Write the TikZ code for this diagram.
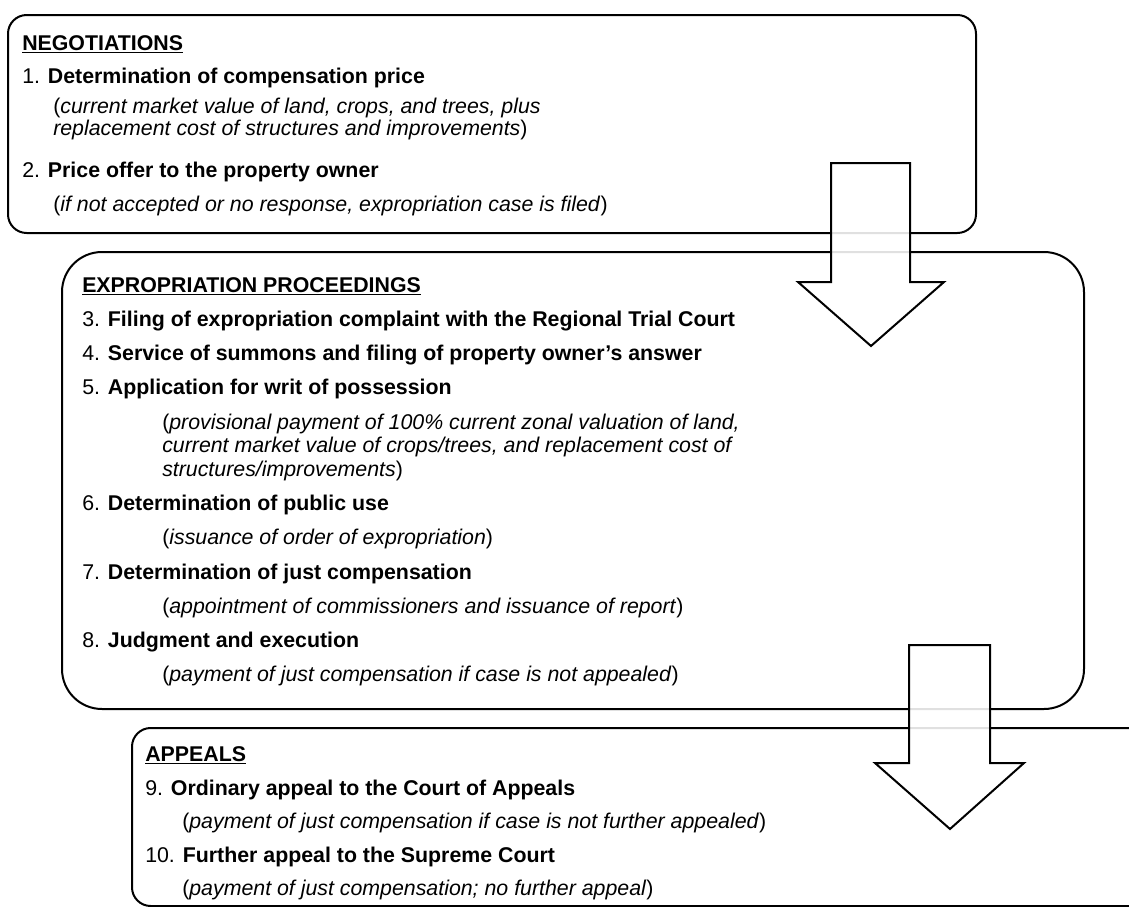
\documentclass[tikz,border=0pt]{standalone}
\usepackage{fontspec}
\setmainfont{Liberation Sans}
\usetikzlibrary{calc}

\begin{document}
\begin{tikzpicture}[x=0.75pt,y=-0.75pt,
    stage/.style={draw, line width=1.5pt},
    blockarrow/.style={draw, line width=1.5pt, fill=white, fill opacity=0.88, line join=miter},
    txt/.style={anchor=base west, inner sep=0pt, font=\fontsize{16}{18}\selectfont},
    note/.style={txt, align=left, font=\fontsize{16}{13.5}\selectfont}]

    \useasboundingbox (0,0) rectangle (1129,907);

    % the three stages
    \draw[stage, rounded corners=14pt] (8,15) rectangle (976,233);
    \draw[stage, rounded corners=30pt] (62,252) rectangle (1084,709);
    \draw[stage, rounded corners=14pt] (132,728) rectangle (1200,906);

    % negotiations
    \node[txt] (neg) at (22,50.5) {\underline{\textbf{NEGOTIATIONS}}};
    \node[txt] (s1) at (22,83) {1. \textbf{Determination of compensation price}};
    % base of a two-line node sits on its last line
    \node[note] (s1a) at (53,135) {(\textit{current market value of land, crops, and trees, plus}\\
        \textit{replacement cost of structures and improvements})};
    \node[txt] (s2) at (22,177) {2. \textbf{Price offer to the property owner}};
    \node[note] (s2a) at (53,211) {(\textit{if not accepted or no response, expropriation case is filed})};

    % expropriation proceedings
    \node[txt] (exp) at (82,292.5) {\underline{\textbf{EXPROPRIATION PROCEEDINGS}}};
    \node[txt] (s3) at (82,326) {3. \textbf{Filing of expropriation complaint with the Regional Trial Court}};
    \node[txt] (s4) at (82,360) {4. \textbf{Service of summons and filing of property owner’s answer}};
    \node[txt] (s5) at (82,394) {5. \textbf{Application for writ of possession}};
    \node[txt] (s5a) at (162,429) {(\textit{provisional payment of 100\% current zonal valuation of land,}};
    \node[txt] (s5b) at (162,452.5) {\textit{current market value of crops/trees, and replacement cost of}};
    \node[txt] (s5c) at (162,476) {\textit{structures/improvements})};
    \node[txt] (s6) at (82,510) {6. \textbf{Determination of public use}};
    \node[note] (s6a) at (162,544) {(\textit{issuance of order of expropriation})};
    \node[txt] (s7) at (82,579) {7. \textbf{Determination of just compensation}};
    \node[note] (s7a) at (162,613) {(\textit{appointment of commissioners and issuance of report})};
    \node[txt] (s8) at (82,647) {8. \textbf{Judgment and execution}};
    \node[note] (s8a) at (162,681) {(\textit{payment of just compensation if case is not appealed})};

    % appeals
    \node[txt] (app) at (145,761) {\underline{\textbf{APPEALS}}};
    \node[txt] (s9) at (145,795) {9. \textbf{Ordinary appeal to the Court of Appeals}};
    \node[note] (s9a) at (182,828) {(\textit{payment of just compensation if case is not further appealed})};
    \node[txt] (s10) at (145,862) {10. \textbf{Further appeal to the Supreme Court}};
    \node[note] (s10a) at (182,895) {(\textit{payment of just compensation; no further appeal})};

    % arrows between the stages
    \draw[blockarrow] (831,163) -- (910,163) -- (910,282) -- (944,282) -- (871,346) -- (798,282) -- (831,282) -- cycle;
    \draw[blockarrow] (909,645) -- (990,645) -- (990,763) -- (1024,763) -- (950,829) -- (875,763) -- (909,763) -- cycle;

\end{tikzpicture}
\end{document}
